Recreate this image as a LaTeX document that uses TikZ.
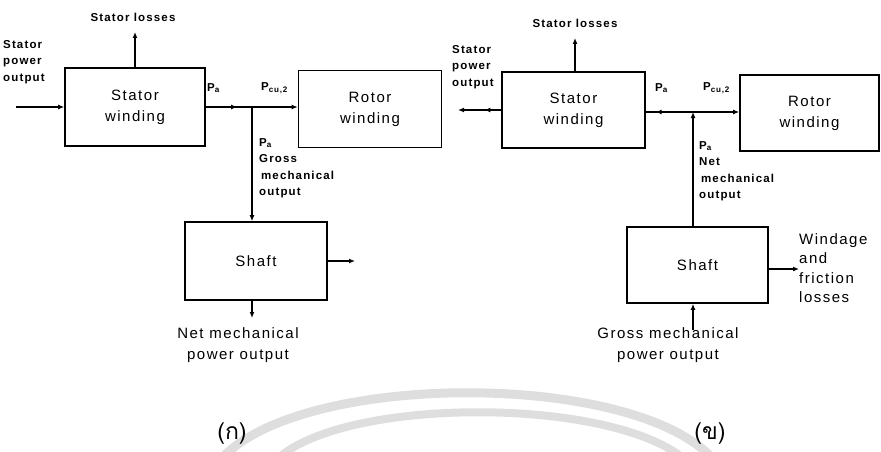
\documentclass[tikz,border=0pt]{standalone}
\usepackage{fontspec}
\setmainfont[LetterSpace=10]{Liberation Sans}
\newfontfamily\thaifont[Script=Thai]{Loma}
\usetikzlibrary{decorations.markings}
\usetikzlibrary{arrows.meta}

\begin{document}
\begin{tikzpicture}[x=1pt,y=-1pt,>={Latex[length=6pt,width=5pt]},
  blk/.style={draw,line width=1.6pt,align=center,inner sep=0pt,
    font=\fontsize{15}{21}\selectfont},
  lbl/.style={inner sep=0pt,align=left,font=\fontsize{11.5}{16.5}\selectfont\bfseries},
  txt/.style={inner sep=0pt,align=center,font=\fontsize{15}{21}\selectfont},
  sub/.style={inner sep=0pt,font=\fontsize{23}{26}\selectfont\thaifont},
  flow/.style={line width=1.4pt}]

\clip (0,0) rectangle (881,452);

\draw[black!13,line width=9pt] (225,455) .. controls (310,372) and (625,372) .. (709,455);
\draw[black!13,line width=8pt] (282,455) .. controls (355,398) and (600,398) .. (679,455);

% (a)
\node[blk,minimum width=140pt,minimum height=78pt] (stL) at (135,107) {Stator\\winding};
\node[blk,minimum width=143pt,minimum height=77pt] (rtL) at (370,109) {Rotor\\winding};
\node[blk,minimum width=142pt,minimum height=78pt] (shL) at (256,261) {Shaft};

\coordinate (inL) at (16,107);
\coordinate (slL) at (135,32);
\coordinate (jL) at (252,107);
\coordinate (oL) at (355,261);
\coordinate (dL) at (252,318);

\node[lbl] (slLt) at (133,17) {Stator losses};
\node[lbl,anchor=north west] (poL) at (3,40) {Stator\\power\\output};
\node[lbl,anchor=west] (paL) at (207,88) {P\textsubscript{a}};
\node[lbl,anchor=west] (pcL) at (261,88) {P\textsubscript{cu,2}};
\node[lbl,anchor=north west] (gmL) at (259,138) {P\textsubscript{a}\\Gross\\\,mechanical\\output};
\node[txt] (nmL) at (238,345) {Net mechanical\\power output};
\node[sub] (capL) at (232,434) {(ก)};

\draw[flow,->] (inL) -- (stL.west |- inL);
\draw[flow,->] (stL.north) -- (slL);
\draw[flow,->] (jL) -- (jL |- shL.north);
\draw[flow,->] (shL.east) -- (oL);
\draw[flow,->] (shL.south -| dL) -- (dL);

\begin{scope}[flow,decoration={
    markings,
    mark=at position 0.34 with {\arrow{>}}}
    ]
\draw[postaction={decorate},->] (stL.east |- jL) -- (rtL.west |- jL);
\end{scope}

% (b)
\node[blk,minimum width=143pt,minimum height=76pt] (stR) at (573.5,110) {Stator\\winding};
\node[blk,minimum width=139pt,minimum height=76pt] (rtR) at (809.5,113) {Rotor\\winding};
\node[blk,minimum width=141pt,minimum height=76pt] (shR) at (697.5,265) {Shaft};

\coordinate (slR) at (575,38);
\coordinate (oR) at (458,110);
\coordinate (jR) at (693,112);
\coordinate (wR) at (799,269);
\coordinate (gR) at (693,330);

\node[lbl] (slRt) at (575,23) {Stator losses};
\node[lbl,anchor=north west] (poR) at (452,45) {Stator\\power\\output};
\node[lbl,anchor=west] (paR) at (655,88) {P\textsubscript{a}};
\node[lbl,anchor=west] (pcR) at (703,88) {P\textsubscript{cu,2}};
\node[lbl,anchor=north west] (nmR) at (699,141) {P\textsubscript{a}\\Net\\\,mechanical\\output};
\node[txt,align=left,anchor=north west,font=\fontsize{15}{19.5}\selectfont] (wfR) at (799,233) {Windage\\and\\friction\\losses};
\node[txt] (gmR) at (668,345) {Gross mechanical\\power output};
\node[sub] (capR) at (710,434) {(ข)};

\draw[flow,->] (stR.north -| slR) -- (slR);
\draw[flow,->] (jR |- shR.north) -- (jR);
\draw[flow,->] (shR.east |- wR) -- (wR);
\draw[flow,->] (gR) -- (gR |- shR.south);

\begin{scope}[flow,decoration={
    markings,
    mark=at position 0.39 with {\arrow{>}}}
    ]
\draw[postaction={decorate},->] (stR.west |- oR) -- (oR);
\end{scope}

\begin{scope}[flow,decoration={
    markings,
    mark=at position 0.17 with {\arrow{<}}}
    ]
\draw[postaction={decorate},->] (stR.east |- jR) -- (rtR.west |- jR);
\end{scope}

\end{tikzpicture}
\end{document}
